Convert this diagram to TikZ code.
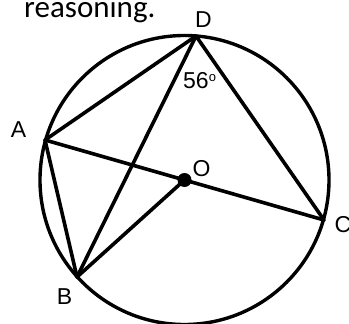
\documentclass[tikz,border=0pt]{standalone}
\usepackage{fontspec}
\setmainfont{Liberation Sans}
\newfontfamily\calib{Carlito}
\begin{document}
\begin{tikzpicture}[x=1pt,y=-1pt,
  seg/.style={line width=3.6pt,line cap=round,line join=round},
  lbl/.style={inner sep=0pt,font=\fontsize{23}{23}\selectfont}]
\useasboundingbox (0,0) rectangle (349,324);
\coordinate (O) at (184.5,180);
\coordinate (D) at (196,36);
\coordinate (A) at (45,140);
\coordinate (C) at (324,220);
\coordinate (B) at (77,277);
\draw[line width=3.4pt] (O) circle[radius=144.5];
\draw[seg] (D) -- (A);
\draw[seg] (D) -- (B);
\draw[seg] (D) -- (C);
\draw[seg] (A) -- (C);
\draw[seg] (A) -- (B);
\draw[seg] (B) -- (O);
\fill (O) circle[radius=7];
\node[lbl] (lD) at (203.5,20) {D};
\node[lbl] (lA) at (18.5,130) {A};
\node[lbl] (lO) at (201.5,168.5) {O};
\node[lbl] (lC) at (343,224.5) {C};
\node[lbl] (lB) at (64.5,296.5) {B};
\node[lbl,anchor=west] (l56) at (183,81) {56\raisebox{0.33em}{\fontsize{13}{13}\selectfont o}};
\node[inner sep=0pt,anchor=base west,font=\calib\fontsize{31}{31}\selectfont] (txt) at (24,17) {reasoning.};
\end{tikzpicture}
\end{document}
